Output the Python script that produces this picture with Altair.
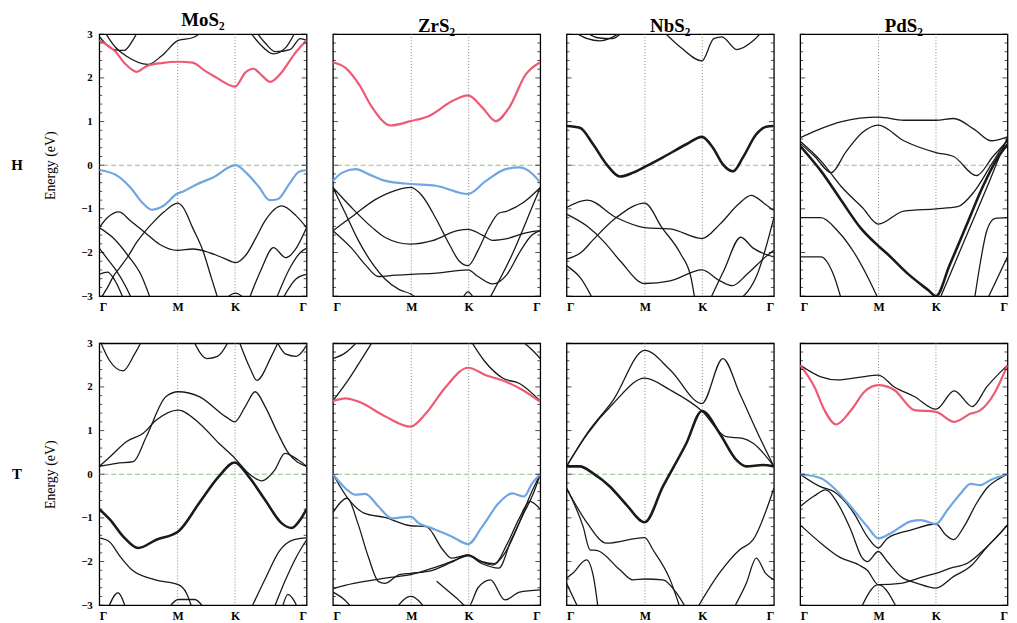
import altair as alt
import pandas as pd

COMPOUNDS = ["MoS₂", "ZrS₂", "NbS₂", "PdS₂"]
PHASES = ["H", "T"]
SYM_K = [0.0, 0.378, 0.655, 1.0]
SYM_LABELS = ["Γ", "M", "K", "Γ"]
E_TICKS = [-3, -2, -1, 0, 1, 2, 3]
E_MINOR = [-2.8, -2.6, -2.4, -2.2, -1.8, -1.6, -1.4, -1.2, -0.8, -0.6, -0.4, -0.2,
           0.2, 0.4, 0.6, 0.8, 1.2, 1.4, 1.6, 1.8, 2.2, 2.4, 2.6, 2.8]
FERMI = [0.0]

# ---- band data: (kind, [(k, E), ...]) ; k = path fraction, E in eV ----
MOS2_H = [
    ("thin", [(0, -3.1), (0.04, -2.8), (0.07, -2.53), (0.1, -2.34), (0.14, -2.08), (0.18, -1.77), (0.22, -1.52),
              (0.26, -1.31), (0.31, -1.08), (0.378, -0.87), (0.405, -0.97), (0.45, -1.43), (0.5, -1.96),
              (0.54, -2.57), (0.575, -3.1)]),
    ("thin", [(0, -1.43), (0.04, -1.2), (0.094, -1.07), (0.15, -1.27), (0.22, -1.54), (0.29, -1.81), (0.378, -1.95),
              (0.45, -1.92), (0.53, -2.0), (0.6, -2.13), (0.657, -2.23), (0.71, -2.04), (0.756, -1.66),
              (0.8, -1.27), (0.88, -0.93), (0.95, -1.16), (1, -1.43)]),
    ("thin", [(0, -1.43), (0.07, -1.68), (0.14, -2.08), (0.2, -2.5), (0.25, -3.1)]),
    ("thin", [(0, -1.9), (0.04, -2.15), (0.08, -2.4), (0.13, -2.8), (0.16, -3.1)]),
    ("thin", [(0, -2.5), (0.04, -2.45), (0.07, -2.6), (0.12, -3.1)]),
    ("thin", [(0.6, -3.1), (0.657, -2.93), (0.71, -3.1)]),
    ("thin", [(0.72, -3.1), (0.78, -2.4), (0.84, -1.89), (0.9, -2.12), (0.95, -1.9), (1, -1.43)]),
    ("thin", [(0.85, -3.1), (0.92, -2.35), (0.97, -2.0), (1, -1.9)]),
    ("thin", [(0.88, -3.1), (0.95, -2.6), (1, -2.5)]),
    ("thin", [(0.02, 3.1), (0.08, 2.69), (0.13, 2.5), (0.235, 2.31), (0.3, 2.5), (0.381, 2.86), (0.45, 2.92),
              (0.51, 3.1)]),
    ("thin", [(0, 2.95), (0.07, 2.65), (0.12, 2.63), (0.16, 2.85), (0.19, 3.1)]),
    ("thin", [(0.72, 3.1), (0.77, 2.8), (0.84, 2.55), (0.9, 2.7), (0.95, 3.1)]),
    ("thin", [(0.75, 3.1), (0.8, 2.8), (0.85, 2.6), (0.92, 2.65), (0.97, 2.9), (1, 2.86)]),
    ("cb", [(0, 2.86), (0.076, 2.61), (0.13, 2.3), (0.18, 2.14), (0.229, 2.27), (0.3, 2.34), (0.381, 2.37),
            (0.45, 2.35), (0.51, 2.16), (0.56, 2.02), (0.655, 1.8), (0.704, 2.12), (0.744, 2.21), (0.785, 2.05),
            (0.824, 1.91), (0.88, 2.13), (0.94, 2.54), (1, 2.86)]),
    ("vb", [(0, -0.11), (0.086, -0.24), (0.15, -0.51), (0.214, -0.89), (0.254, -1.02), (0.31, -0.93),
            (0.373, -0.66), (0.405, -0.6), (0.469, -0.44), (0.549, -0.28), (0.657, 0.0), (0.708, -0.17),
            (0.772, -0.51), (0.82, -0.8), (0.86, -0.78), (0.915, -0.44), (0.963, -0.15), (1, -0.11)]),
]

ZRS2_H = [
    ("thin", [(0, -1.5), (0.1, -1.15), (0.2, -0.8), (0.3, -0.58), (0.375, -0.51), (0.43, -0.7), (0.5, -1.25),
              (0.56, -1.8), (0.61, -2.2), (0.652, -2.3), (0.7, -1.95), (0.75, -1.45), (0.8, -1.1), (0.84, -1.05),
              (0.92, -0.85), (1, -0.51)]),
    ("thin", [(0, -0.51), (0.09, -0.97), (0.19, -1.43), (0.25, -1.65), (0.375, -1.81), (0.48, -1.73), (0.6, -1.5),
              (0.652, -1.47), (0.72, -1.6), (0.77, -1.72), (0.84, -1.68), (0.93, -1.55), (1, -1.5)]),
    ("thin", [(0, -0.51), (0.06, -1.1), (0.12, -1.7), (0.19, -2.25), (0.25, -2.6), (0.32, -2.85), (0.375, -2.95),
              (0.42, -3.1)]),
    ("thin", [(0, -1.5), (0.09, -1.9), (0.16, -2.3), (0.22, -2.55), (0.3, -2.52), (0.375, -2.5), (0.5, -2.47),
              (0.652, -2.4), (0.7, -2.55), (0.77, -2.72), (0.84, -2.5), (0.9, -2.0), (0.96, -1.6), (1, -1.5)]),
    ("thin", [(0.62, -3.1), (0.652, -2.9), (0.685, -3.1)]),
    ("thin", [(0.75, -3.1), (0.865, -2.04), (0.96, -0.97), (1, -0.51)]),
    ("cb", [(0, 2.36), (0.061, 2.23), (0.126, 1.85), (0.19, 1.32), (0.279, 0.91), (0.375, 1.01), (0.464, 1.13),
            (0.576, 1.47), (0.652, 1.6), (0.721, 1.32), (0.786, 1.01), (0.85, 1.32), (0.93, 2.08), (1, 2.36)]),
    ("vb", [(0, -0.36), (0.045, -0.17), (0.11, -0.09), (0.174, -0.21), (0.254, -0.36), (0.375, -0.43),
            (0.496, -0.47), (0.652, -0.66), (0.738, -0.36), (0.834, -0.09), (0.899, -0.05), (0.963, -0.2),
            (1, -0.4)]),
]

NBS2_H = [
    ("thin", [(0.02, 3.1), (0.1, 2.9), (0.16, 2.85), (0.22, 2.93), (0.28, 3.1)]),
    ("thin", [(0.08, 3.1), (0.15, 2.92), (0.22, 2.9), (0.28, 3.1)]),
    ("thin", [(0.46, 3.1), (0.55, 2.7), (0.653, 2.39), (0.71, 2.9), (0.75, 2.94), (0.82, 2.65), (0.9, 2.85),
              (0.95, 3.1)]),
    ("thin", [(0, -0.97), (0.1, -0.8), (0.24, -1.2), (0.377, -1.43), (0.5, -1.46), (0.653, -1.68), (0.74, -1.35),
              (0.83, -0.89), (0.89, -0.69), (0.96, -0.9), (1, -1.04)]),
    ("thin", [(0, -2.15), (0.07, -2.0), (0.13, -1.7), (0.24, -1.2), (0.377, -0.87), (0.46, -1.43), (0.55, -2.03),
              (0.6, -2.57), (0.62, -3.1)]),
    ("thin", [(0, -1.12), (0.1, -1.4), (0.18, -1.75), (0.26, -2.2), (0.377, -2.71), (0.5, -2.65), (0.653, -2.4),
              (0.74, -2.65), (0.8, -2.76), (0.87, -2.5), (0.96, -2.1), (1, -1.95)]),
    ("thin", [(0, -2.3), (0.07, -2.6), (0.13, -3.1)]),
    ("thin", [(0.69, -3.1), (0.76, -2.4), (0.84, -1.65), (0.9, -1.9), (1, -2.1)]),
    ("thin", [(0.83, -3.1), (0.92, -2.5), (1, -1.2)]),
    ("thick", [(0, 0.9), (0.064, 0.86), (0.128, 0.48), (0.193, 0.02), (0.257, -0.26), (0.321, -0.17),
               (0.377, -0.04), (0.465, 0.18), (0.578, 0.48), (0.653, 0.65), (0.706, 0.4), (0.754, 0.02),
               (0.803, -0.14), (0.851, 0.18), (0.915, 0.71), (0.963, 0.88), (1, 0.9)]),
]

PDS2_H = [
    ("thin", [(0, 0.63), (0.08, 0.8), (0.2, 1.0), (0.377, 1.1), (0.5, 1.03), (0.655, 1.03), (0.74, 1.07),
              (0.84, 0.82), (0.92, 0.56), (1, 0.65)]),
    ("thin", [(0, 0.5), (0.07, 0.2), (0.15, -0.17), (0.22, 0.3), (0.3, 0.75), (0.377, 0.92), (0.5, 0.56),
              (0.655, 0.29), (0.74, 0.2), (0.85, -0.24), (0.93, 0.2), (1, 0.56)]),
    ("thin", [(0, 0.55), (0.1, 0.1), (0.2, -0.5), (0.3, -0.97), (0.377, -1.35), (0.5, -1.05), (0.655, -1.0),
              (0.76, -0.95), (0.84, -0.6), (0.92, 0.0), (1, 0.6)]),
    ("thin", [(0, -1.2), (0.1, -1.2), (0.18, -1.5), (0.26, -2.0), (0.33, -2.6), (0.38, -3.1)]),
    ("thin", [(0, -2.1), (0.1, -2.1), (0.16, -2.5), (0.2, -3.1)]),
    ("thin", [(0.84, -3.1), (0.87, -2.2), (0.9, -1.5), (0.94, -1.22), (1, -1.2)]),
    ("thin", [(0.9, -3.1), (1, -2.1)]),
    ("thin", [(0.67, -3.1), (0.75, -2.2), (0.83, -1.3), (0.91, -0.4), (0.97, 0.3), (1, 0.63)]),
    ("thick", [(0, 0.44), (0.1, -0.13), (0.2, -0.82), (0.29, -1.43), (0.377, -1.85), (0.42, -2.03),
               (0.52, -2.49), (0.62, -2.87), (0.655, -3.0), (0.72, -2.3), (0.8, -1.4), (0.88, -0.5),
               (0.95, 0.15), (1, 0.48)]),
]

MOS2_T = [
    ("thin", [(0, 0.18), (0.084, 0.25), (0.164, 0.29), (0.227, 0.86), (0.322, 1.78), (0.381, 1.89), (0.482, 1.78),
              (0.609, 1.32), (0.653, 1.2), (0.704, 1.55), (0.752, 1.89), (0.8, 1.55), (0.86, 0.95), (0.91, 0.5),
              (1, 0.18)]),
    ("thin", [(0, 0.18), (0.052, 0.4), (0.132, 0.75), (0.212, 0.94), (0.275, 1.24), (0.381, 1.47), (0.482, 1.17),
              (0.577, 0.71), (0.653, 0.37), (0.72, 0.02), (0.784, -0.15), (0.847, 0.1), (0.895, 0.48),
              (0.958, 0.33), (1, 0.18)]),
    ("thin", [(0, 3.1), (0.05, 2.6), (0.115, 2.37), (0.17, 2.75), (0.21, 3.1)]),
    ("thin", [(0.45, 3.1), (0.52, 2.65), (0.57, 2.7), (0.63, 3.1)]),
    ("thin", [(0.67, 3.1), (0.73, 2.4), (0.76, 2.15), (0.83, 2.7), (0.87, 3.1)]),
    ("thin", [(0.85, 3.1), (0.9, 2.75), (0.95, 2.7), (1, 2.95)]),
    ("thin", [(0, -1.46), (0.05, -1.55), (0.1, -1.88), (0.16, -2.2), (0.27, -2.42), (0.381, -2.53), (0.42, -2.72),
              (0.45, -3.1)]),
    ("thin", [(0.04, -3.1), (0.09, -2.72), (0.13, -3.1)]),
    ("thin", [(0.33, -3.1), (0.381, -2.87), (0.46, -2.87), (0.51, -3.1)]),
    ("thin", [(0.73, -3.1), (0.8, -2.4), (0.87, -1.75), (0.94, -1.5), (1, -1.46)]),
    ("thin", [(0.84, -3.1), (0.9, -2.4), (0.95, -1.9), (1, -1.5)]),
    ("thin", [(0.88, -3.1), (0.91, -2.75), (0.94, -2.9), (0.96, -3.1)]),
    ("thick", [(0, -0.8), (0.052, -1.04), (0.116, -1.43), (0.188, -1.69), (0.275, -1.5), (0.381, -1.31),
               (0.482, -0.66), (0.577, -0.05), (0.653, 0.27), (0.72, -0.05), (0.8, -0.59), (0.879, -1.12),
               (0.927, -1.23), (0.975, -1.0), (1, -0.8)]),
]

ZRS2_T = [
    ("thin", [(0, 0.0), (0.08, -0.6), (0.15, -0.89), (0.25, -0.99), (0.375, -1.18), (0.45, -1.2), (0.53, -1.73),
              (0.57, -1.92), (0.652, -1.85), (0.7, -1.97), (0.77, -2.08), (0.83, -1.8), (0.9, -1.1),
              (0.95, -0.5), (1, 0.0)]),
    ("thin", [(0, -0.88), (0.07, -0.55), (0.12, -1.12), (0.17, -1.88), (0.22, -2.46), (0.25, -2.5), (0.32, -2.3),
              (0.375, -2.27), (0.48, -2.2), (0.57, -2.02), (0.652, -1.85), (0.72, -2.0), (0.78, -2.05),
              (0.84, -1.6), (0.9, -1.0), (0.95, -0.62), (1, -0.8)]),
    ("thin", [(0, -2.62), (0.1, -2.5), (0.2, -2.42), (0.3, -2.35), (0.375, -2.3), (0.5, -2.12), (0.6, -1.95),
              (0.652, -1.87), (0.72, -2.05), (0.8, -2.15), (0.86, -1.5), (0.92, -0.9), (0.97, -0.4), (1, 0.0)]),
    ("thin", [(0.3, -3.1), (0.375, -2.8), (0.45, -3.1)]),
    ("thin", [(0, -2.7), (0.05, -2.85), (0.1, -3.1)]),
    ("thin", [(0.5, -2.45), (0.6, -2.85), (0.652, -3.05), (0.7, -2.6), (0.76, -2.42), (0.83, -2.88),
              (0.9, -2.7), (1, -2.65)]),
    ("thin", [(0, 2.65), (0.06, 2.78), (0.13, 3.1)]),
    ("thin", [(0, 1.68), (0.08, 2.2), (0.14, 2.65), (0.2, 3.1)]),
    ("thin", [(0.66, 3.1), (0.73, 2.6), (0.82, 2.2), (0.9, 2.08), (1, 1.68)]),
    ("thin", [(0.9, 3.1), (0.96, 2.85), (1, 2.65)]),
    ("cb", [(0, 1.68), (0.061, 1.74), (0.126, 1.66), (0.254, 1.32), (0.375, 1.09), (0.448, 1.39), (0.544, 2.0),
            (0.652, 2.44), (0.738, 2.27), (0.834, 2.12), (0.915, 1.93), (1, 1.66)]),
    ("vb", [(0, 0.0), (0.06, -0.32), (0.108, -0.47), (0.156, -0.45), (0.22, -0.74), (0.285, -1.01),
            (0.375, -0.97), (0.414, -1.12), (0.478, -1.24), (0.575, -1.43), (0.652, -1.6), (0.72, -1.2),
            (0.8, -0.66), (0.865, -0.44), (0.921, -0.51), (0.961, -0.21), (1, 0.0)]),
]

NBS2_T = [
    ("thin", [(0, 0.18), (0.1, 0.94), (0.225, 1.7), (0.377, 2.84), (0.5, 2.39), (0.653, 1.62), (0.754, 2.65),
              (0.835, 1.85), (0.93, 0.86), (1, 0.18)]),
    ("thin", [(0, 0.18), (0.1, 0.92), (0.225, 1.62), (0.377, 2.2), (0.5, 1.93), (0.653, 1.45), (0.77, 0.86),
              (0.85, 0.82), (0.9, 0.71), (1, 0.18)]),
    ("thin", [(0, -0.32), (0.08, -1.2), (0.113, -1.73), (0.15, -1.75), (0.257, -2.19), (0.32, -2.42),
              (0.377, -2.4), (0.465, -2.42), (0.53, -2.72), (0.58, -3.1)]),
    ("thin", [(0, -0.32), (0.1, -1.12), (0.193, -1.58), (0.377, -1.45), (0.417, -1.73), (0.5, -2.42),
              (0.55, -3.1)]),
    ("thin", [(0, -2.38), (0.03, -2.27), (0.096, -1.96), (0.13, -2.35), (0.153, -3.1)]),
    ("thin", [(0, -2.5), (0.06, -3.1)]),
    ("thin", [(0.626, -3.1), (0.738, -2.26), (0.835, -1.73), (0.9, -1.5), (1, -0.32)]),
    ("thin", [(0.803, -3.1), (0.867, -2.5), (0.915, -1.92), (0.96, -2.27), (1, -2.42)]),
    ("thick", [(0, 0.18), (0.064, 0.18), (0.128, 0.02), (0.209, -0.28), (0.289, -0.7), (0.377, -1.1),
               (0.465, -0.28), (0.578, 0.71), (0.653, 1.45), (0.738, 0.94), (0.819, 0.33), (0.867, 0.18),
               (0.947, 0.21), (1, 0.18)]),
]

PDS2_T = [
    ("thin", [(0, 2.5), (0.1, 2.23), (0.18, 2.16), (0.3, 2.23), (0.377, 2.27), (0.454, 2.0), (0.55, 1.78),
              (0.655, 1.49), (0.743, 1.91), (0.83, 1.55), (0.9, 2.0), (1, 2.5)]),
    ("thin", [(0, 0.0), (0.1, -0.29), (0.164, -0.4), (0.26, -0.9), (0.324, -1.43), (0.377, -1.69),
              (0.42, -1.47), (0.533, -1.28), (0.655, -1.14), (0.7, -1.38), (0.74, -1.5), (0.79, -1.2),
              (0.85, -0.67), (0.9, -0.32), (0.96, -0.1), (1, 0.0)]),
    ("thin", [(0, -0.74), (0.067, -0.5), (0.124, -0.36), (0.18, -0.66), (0.244, -1.27), (0.3, -1.92),
              (0.324, -2.0), (0.377, -1.77), (0.42, -2.0), (0.485, -2.34), (0.565, -2.5), (0.655, -2.61),
              (0.741, -2.34), (0.822, -2.11), (0.902, -1.66), (0.966, -1.35), (1, -1.16)]),
    ("thin", [(0, -1.16), (0.1, -1.58), (0.19, -1.9), (0.284, -2.08), (0.324, -2.2), (0.377, -2.53),
              (0.485, -2.5), (0.6, -2.34), (0.655, -2.27), (0.725, -2.15), (0.806, -2.04), (0.886, -1.73),
              (0.95, -1.42), (1, -1.16)]),
    ("thin", [(0.29, -3.1), (0.377, -2.53), (0.47, -3.1)]),
    ("cb", [(0, 2.5), (0.069, 2.0), (0.117, 1.47), (0.173, 1.14), (0.246, 1.47), (0.31, 1.89), (0.377, 2.04),
            (0.454, 1.93), (0.551, 1.47), (0.655, 1.43), (0.743, 1.2), (0.823, 1.39), (0.864, 1.45),
            (0.936, 1.85), (1, 2.5)]),
    ("vb", [(0, 0.0), (0.1, -0.09), (0.164, -0.32), (0.244, -0.74), (0.324, -1.2), (0.377, -1.47),
            (0.437, -1.35), (0.533, -1.08), (0.581, -1.05), (0.655, -1.14), (0.71, -0.82), (0.774, -0.44),
            (0.822, -0.22), (0.87, -0.25), (0.918, -0.13), (1, 0.0)]),
]

PANELS = [[MOS2_H, ZRS2_H, NBS2_H, PDS2_H], [MOS2_T, ZRS2_T, NBS2_T, PDS2_T]]

FONT = "Liberation Serif"
W, H = 209, 264
X_SCALE = alt.Scale(domain=[0, 1], nice=False, zero=False)
Y_SCALE = alt.Scale(domain=[-3, 3], nice=False, zero=False)

parts = []
for i in range(len(SYM_K) - 1):
    mid = (SYM_K[i] + SYM_K[i + 1]) / 2
    parts.append(f"datum.value < {mid:.4f} ? '{SYM_LABELS[i]}'")
LABEL_EXPR = " : ".join(parts) + f" : '{SYM_LABELS[-1]}'"

X_AXIS = alt.Axis(values=SYM_K, labelExpr=LABEL_EXPR, ticks=False, domain=False, grid=False, title=None,
                  labelFont=FONT, labelFontSize=12, labelFontWeight="bold", labelColor="black",
                  labelPadding=5, labelFlush=True)


def panel(bands, col, row):
    recs = []
    for i, (kind, pts) in enumerate(bands):
        for j, (k, e) in enumerate(pts):
            recs.append({"band": i, "kind": kind, "k": k, "E": e, "o": j})
    df = pd.DataFrame(recs)
    black_df = df[df["kind"].isin(["thin", "thick"])]
    color_df = df[df["kind"].isin(["cb", "vb"])]

    if col == 0:
        y_axis = alt.Axis(values=E_TICKS, ticks=False, domain=False, grid=False, title="Energy (eV)",
                          titleFont=FONT, titleFontSize=14, titleFontWeight="normal", titleColor="black",
                          titlePadding=23, labelFont=FONT, labelFontSize=11, labelFontWeight="bold",
                          labelColor="black", labelPadding=7)
    else:
        y_axis = alt.Axis(values=E_TICKS, ticks=False, domain=False, grid=False, labels=False, title=None)

    X = alt.X("k:Q", scale=X_SCALE, axis=X_AXIS)
    Y = alt.Y("E:Q", scale=Y_SCALE, axis=y_axis)

    def tick_layer(values, xpos, size):
        return alt.Chart(pd.DataFrame({"E": values})).mark_tick(
            orient="horizontal", color="black", thickness=1, size=size
        ).encode(y=Y, x=alt.value(xpos))

    layers = []
    layers.append(
        alt.Chart(pd.DataFrame({"k": SYM_K[1:3]})).mark_rule(color="#777777", strokeDash=[1, 2],
                                                             strokeWidth=0.9).encode(x=X)
    )
    layers.append(
        alt.Chart(pd.DataFrame({"E": FERMI})).mark_rule(color="#86c486", strokeDash=[5, 3],
                                                        strokeWidth=1.1).encode(y=Y)
    )
    layers.append(
        alt.Chart(black_df).mark_line(interpolate="monotone", clip=True, color="#1a1a1a").encode(
            x=X, y=Y, detail="band:N", order="o:Q",
            strokeWidth=alt.StrokeWidth("kind:N", scale=alt.Scale(domain=["thin", "thick"], range=[1.3, 2.6]),
                                        legend=None))
    )
    if len(color_df):
        layers.append(
            alt.Chart(color_df).mark_line(interpolate="monotone", clip=True, strokeWidth=2.2).encode(
                x=X, y=Y, detail="band:N", order="o:Q",
                color=alt.Color("kind:N", scale=alt.Scale(domain=["cb", "vb"], range=["#ee5a73", "#6fa6e2"]),
                                legend=None))
        )
    layers += [tick_layer(E_TICKS, 2.5, 5), tick_layer(E_MINOR, 1.5, 3),
               tick_layer(E_TICKS, W - 2.5, 5), tick_layer(E_MINOR, W - 1.5, 3)]
    if col == 0:
        layers.append(
            alt.Chart(pd.DataFrame({"t": [PHASES[row]]})).mark_text(
                font=FONT, fontSize=15, fontWeight="bold", color="black", align="center",
                baseline="middle").encode(text="t:N", x=alt.value(-83), y=alt.value(132))
        )
    ch = alt.layer(*layers)
    if row == 0:
        return ch.properties(width=W, height=H,
                             title=alt.TitleParams(text=COMPOUNDS[col], font=FONT, fontSize=19, fontWeight="bold",
                                                   color="black", offset=-2, anchor="middle"))
    return ch.properties(width=W, height=H)


rows = []
for r in range(2):
    rows.append(alt.hconcat(*[panel(PANELS[r][c], c, r) for c in range(4)], spacing=26.5, bounds="flush"))

chart = alt.vconcat(*rows, spacing=23.5).configure_view(
    stroke="black", strokeWidth=1.3
).properties(padding={"left": 2, "top": 0, "right": 0, "bottom": 0})

chart.save("out.html", embed_options={"renderer": "svg", "actions": False})
